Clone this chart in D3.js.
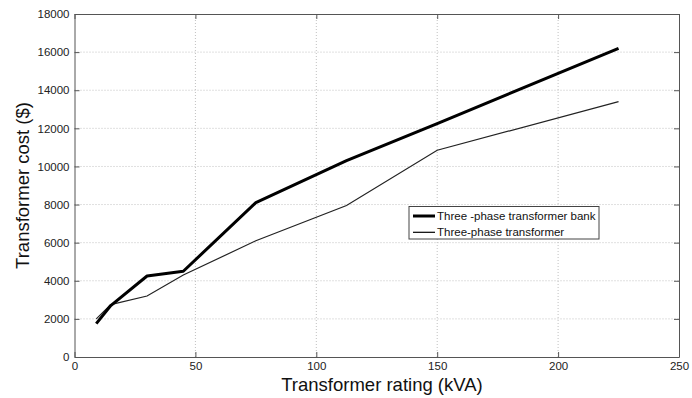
<!DOCTYPE html>
<html>
<head>
<meta charset="utf-8">
<script src="https://cdn.jsdelivr.net/npm/d3@7"></script>
<style>
  body { margin: 0; background: #fff; }
  text { font-family: "Liberation Sans", Arial, sans-serif; }
</style>
</head>
<body>
<div id="chart"></div>
<script>
// Data
const ratingsBank = [9, 15, 30, 45, 75, 112.5, 150, 225];
const costBank = [1750, 2700, 4250, 4500, 8100, 10300, 12250, 16200];
const ratingsSingle = [9, 15, 30, 45, 75, 112.5, 150, 225];
const costSingle = [2000, 2750, 3200, 4300, 6100, 7950, 10850, 13400];

const xTicks = [0, 50, 100, 150, 200, 250];
const yTicks = [0, 2000, 4000, 6000, 8000, 10000, 12000, 14000, 16000, 18000];
const legendLabels = ["Three -phase transformer bank", "Three-phase transformer"];

const WIDTH = 692;
const HEIGHT = 398;
const MARGIN = { top: 14, right: 13, bottom: 41, left: 74.5 };

const svg = d3.select("#chart")
    .append("svg")
    .attr("width", WIDTH)
    .attr("height", HEIGHT);

const innerWidth = WIDTH - MARGIN.left - MARGIN.right;
const innerHeight = HEIGHT - MARGIN.top - MARGIN.bottom;

const g = svg.append("g")
    .attr("transform", `translate(${MARGIN.left},${MARGIN.top})`);

const x = d3.scaleLinear().domain([0, 250]).range([0, innerWidth]);
const y = d3.scaleLinear().domain([0, 18000]).range([innerHeight, 0]);

// Dotted grid
g.append("g")
    .selectAll("line")
    .data(xTicks.slice(1, -1))
    .enter()
    .append("line")
    .attr("x1", d => x(d)).attr("x2", d => x(d))
    .attr("y1", 0).attr("y2", innerHeight)
    .attr("stroke", "#c0c0c0")
    .attr("stroke-dasharray", "1,2");

g.append("g")
    .selectAll("line")
    .data(yTicks.slice(1, -1))
    .enter()
    .append("line")
    .attr("x1", 0).attr("x2", innerWidth)
    .attr("y1", d => y(d)).attr("y2", d => y(d))
    .attr("stroke", "#c0c0c0")
    .attr("stroke-dasharray", "1,2");

// Axes with inward ticks (matlab style)
const tickLen = 5;
const xAxis = g.append("g")
    .attr("transform", `translate(0,${innerHeight})`)
    .call(d3.axisBottom(x).tickValues(xTicks).tickSizeInner(-tickLen).tickSizeOuter(0).tickPadding(5));
const yAxis = g.append("g")
    .call(d3.axisLeft(y).tickValues(yTicks).tickSizeInner(-tickLen).tickSizeOuter(0).tickPadding(5).tickFormat(d3.format("d")));
const xTop = g.append("g")
    .call(d3.axisTop(x).tickValues(xTicks).tickSizeInner(-tickLen).tickSizeOuter(0));
const yRight = g.append("g")
    .attr("transform", `translate(${innerWidth},0)`)
    .call(d3.axisRight(y).tickValues(yTicks).tickSizeInner(-tickLen).tickSizeOuter(0));
xTop.selectAll(".tick text").remove();
yRight.selectAll(".tick text").remove();

[xAxis, yAxis, xTop, yRight].forEach(a => {
    a.select(".domain").attr("stroke", "#555");
    a.selectAll(".tick line").attr("stroke", "#555");
    a.selectAll(".tick text")
        .attr("fill", "#222")
        .style("font-size", "11.5px")
        .style("font-family", "'Liberation Sans', Arial, sans-serif");
});

// Lines
const line = d3.line().x(d => x(d[0])).y(d => y(d[1]));

g.append("path")
    .datum(ratingsSingle.map((r, i) => [r, costSingle[i]]))
    .attr("d", line)
    .attr("fill", "none")
    .attr("stroke", "#222")
    .attr("stroke-width", 1.2);

g.append("path")
    .datum(ratingsBank.map((r, i) => [r, costBank[i]]))
    .attr("d", line)
    .attr("fill", "none")
    .attr("stroke", "#000")
    .attr("stroke-width", 3)
    .attr("stroke-linejoin", "round");

// Axis titles
svg.append("text")
    .attr("x", 382)
    .attr("y", 391)
    .attr("text-anchor", "middle")
    .style("font-size", "18.5px")
    .attr("fill", "#111")
    .text("Transformer rating (kVA)");

svg.append("text")
    .attr("transform", `translate(28.5,${MARGIN.top + innerHeight / 2}) rotate(-90)`)
    .attr("text-anchor", "middle")
    .style("font-size", "18.5px")
    .attr("fill", "#111")
    .text("Transformer cost ($)");

// Legend
const legend = svg.append("g").attr("transform", "translate(409,206.5)");
legend.append("rect")
    .attr("width", 190).attr("height", 32.5)
    .attr("fill", "#fff")
    .attr("stroke", "#444");

legendLabels.forEach((lab, i) => {
    const ly = 9.5 + i * 16.3;
    legend.append("line")
        .attr("x1", 4).attr("x2", 26)
        .attr("y1", ly).attr("y2", ly)
        .attr("stroke", "#000")
        .attr("stroke-width", i === 0 ? 3 : 1.2);
    legend.append("text")
        .attr("x", 28).attr("y", ly + 4)
        .style("font-size", "11.5px")
        .attr("fill", "#111")
        .text(lab);
});
</script>
</body>
</html>
